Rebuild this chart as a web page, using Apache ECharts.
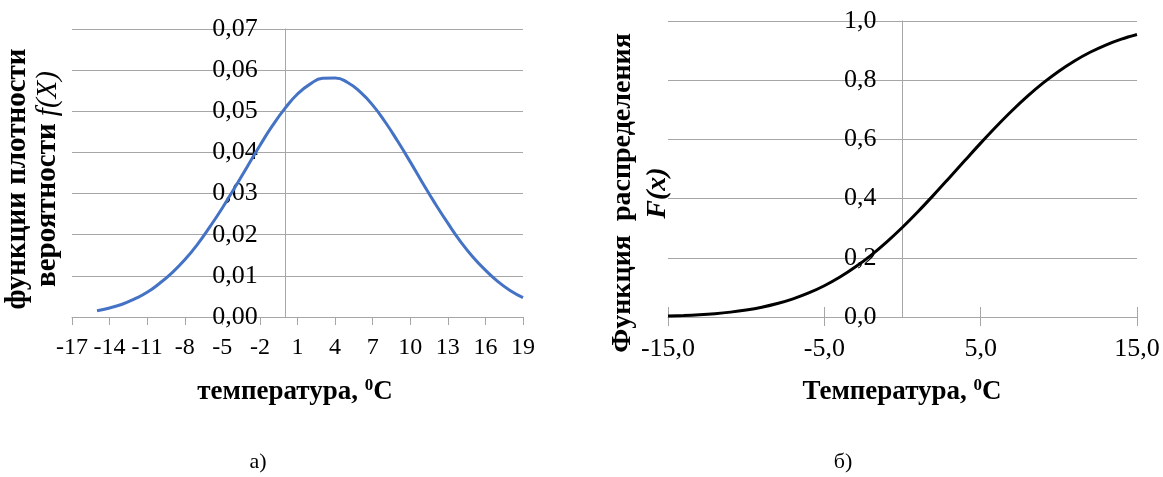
<!DOCTYPE html>
<html>
<head>
<meta charset="utf-8">
<script src="https://cdn.jsdelivr.net/npm/echarts@6/dist/echarts.min.js"></script>
<style>
html,body{margin:0;padding:0;background:#fff;}
#c{width:1163px;height:477px;}
</style>
</head>
<body>
<div id="c"></div>
<script>
// ---- data ----
const leftCategories = [-17,-16,-15,-14,-13,-12,-11,-10,-9,-8,-7,-6,-5,-4,-3,-2,-1,0,1,2,3,4,5,6,7,8,9,10,11,12,13,14,15,16,17,18,19];
const densityX = [-15,-14,-13,-12,-11,-10,-9,-8,-7,-6,-5,-4,-3,-2,-1,0,1,2,3,4,5,6,7,8,9,10,11,12,13,14,15,16,17,18,19];
const densityY = [0.0015,0.0022,0.0031,0.0044,0.0060,0.0082,0.0108,0.0139,0.0176,0.0219,0.0265,0.0315,0.0366,0.0417,0.0465,0.0507,0.0542,0.0566,0.0580,0.0581,0.0570,0.0547,0.0515,0.0474,0.0427,0.0377,0.0325,0.0275,0.0228,0.0184,0.0146,0.0114,0.0086,0.0064,0.0047];
const leftYTicks = [0,0.01,0.02,0.03,0.04,0.05,0.06,0.07];

const rightCategories = [-15,-14,-13,-12,-11,-10,-9,-8,-7,-6,-5,-4,-3,-2,-1,0,1,2,3,4,5,6,7,8,9,10,11,12,13,14,15];
const cdfX = [-15,-14,-13,-12,-11,-10,-9,-8,-7,-6,-5,-4,-3,-2,-1,0,1,2,3,4,5,6,7,8,9,10,11,12,13,14,15];
const cdfY = [0.0033,0.0050,0.0076,0.0113,0.0165,0.0236,0.0330,0.0454,0.0613,0.0812,0.1056,0.1350,0.1696,0.2093,0.2540,0.3033,0.3565,0.4126,0.4707,0.5293,0.5874,0.6435,0.6967,0.7460,0.7907,0.8304,0.8650,0.8944,0.9188,0.9387,0.9546];
const rightYTicks = [0,0.2,0.4,0.6,0.8,1.0];

const FONT = 'Liberation Serif';
const GRID = '#a6a6a6';
const LABEL_GAP = 26;

function commaFmt(d){ return v => Number(v).toFixed(d).replace('.', ','); }

const chart = echarts.init(document.getElementById('c'), null, {renderer:'canvas'});
const option = {
  animation:false,
  backgroundColor:'#fff',
  grid:[
    {left:72, width:451, top:29, height:288},
    {left:668, width:469, top:21, height:296}
  ],
  xAxis:[
    {type:'value', gridIndex:0, min:leftCategories[0], max:leftCategories[leftCategories.length-1],
     axisLine:{show:true, lineStyle:{color:GRID, width:1}}, axisTick:{show:false}, axisLabel:{show:false}, splitLine:{show:false}},
    {type:'category', gridIndex:0, position:'bottom', data:leftCategories.map(String), boundaryGap:false,
     axisLine:{show:false, onZero:false}, axisTick:{show:true, interval:2, length:8, lineStyle:{color:GRID}},
     axisLabel:{interval:2, margin:19, color:'#000', fontFamily:FONT, fontSize:24}, splitLine:{show:false}},
    {type:'value', gridIndex:1, min:rightCategories[0], max:rightCategories[rightCategories.length-1],
     axisLine:{show:true, lineStyle:{color:GRID, width:1}}, axisTick:{show:false}, axisLabel:{show:false}, splitLine:{show:false}},
    {type:'category', gridIndex:1, position:'bottom', data:rightCategories.map(String), boundaryGap:false,
     axisLine:{show:false, onZero:false}, axisTick:{show:true, interval:9, length:9, lineStyle:{color:GRID}},
     axisLabel:{interval:9, margin:19, color:'#000', fontFamily:FONT, fontSize:26, formatter:commaFmt(1)}, splitLine:{show:false}},
    {type:'category', gridIndex:1, position:'bottom', data:rightCategories.map(String), boundaryGap:false,
     axisLine:{show:false, onZero:false}, axisTick:{show:true, inside:true, interval:9, length:10, lineStyle:{color:GRID}},
     axisLabel:{show:false}, splitLine:{show:false}}
  ],
  yAxis:[
    {type:'value', gridIndex:0, min:leftYTicks[0], max:leftYTicks[leftYTicks.length-1], interval:0.01,
     axisLine:{show:true, onZero:true, lineStyle:{color:GRID, width:1}}, axisTick:{show:false},
     axisLabel:{margin:LABEL_GAP, color:'#000', fontFamily:FONT, fontSize:26, formatter:commaFmt(2)},
     splitLine:{show:true, lineStyle:{color:GRID, width:1}}},
    {type:'value', gridIndex:1, min:rightYTicks[0], max:rightYTicks[rightYTicks.length-1], interval:0.2,
     axisLine:{show:true, onZero:true, lineStyle:{color:GRID, width:1}}, axisTick:{show:false},
     axisLabel:{margin:LABEL_GAP, color:'#000', fontFamily:FONT, fontSize:26, formatter:commaFmt(1)},
     splitLine:{show:true, lineStyle:{color:GRID, width:1}}}
  ],
  series:[
    {type:'line', xAxisIndex:0, yAxisIndex:0, smooth:0.5, showSymbol:false,
     lineStyle:{color:'#4472C4', width:3}, data:densityX.map((x,i)=>[x,densityY[i]])},
    {type:'line', xAxisIndex:2, yAxisIndex:1, smooth:0.35, showSymbol:false,
     lineStyle:{color:'#000', width:3}, data:cdfX.map((x,i)=>[x,cdfY[i]])}
  ],
  graphic:[
    {type:'text', x:33, y:179, rotation:Math.PI/2, z:10,
     style:{text:'{b|функции плотности}\n{b|вероятности }{i|f(X)}', align:'center', verticalAlign:'middle',
       rich:{b:{fontFamily:FONT, fontWeight:'bold', fontSize:29, lineHeight:30, fill:'#000'},
             i:{fontFamily:FONT, fontStyle:'italic', fontSize:29, lineHeight:30, fill:'#000'}}}},
    {type:'text', x:640, y:193, rotation:Math.PI/2, z:10,
     style:{text:'{b|Функция  распределения}\n{i|F(x)}', align:'center', verticalAlign:'middle',
       rich:{b:{fontFamily:FONT, fontWeight:'bold', fontSize:28, lineHeight:35, fill:'#000'},
             i:{fontFamily:FONT, fontStyle:'italic', fontWeight:'bold', fontSize:28, lineHeight:35, fill:'#000'}}}},
    {type:'text', x:295, y:392, z:10,
     style:{text:'{b|температура, }{s|0}{b|C}', align:'center', verticalAlign:'middle',
       rich:{b:{fontFamily:FONT, fontWeight:'bold', fontSize:27, lineHeight:30, fill:'#000'},
             s:{fontFamily:FONT, fontWeight:'bold', fontSize:17, lineHeight:30, verticalAlign:'top', fill:'#000'}}}},
    {type:'text', x:902, y:392, z:10,
     style:{text:'{b|Температура, }{s|0}{b|C}', align:'center', verticalAlign:'middle',
       rich:{b:{fontFamily:FONT, fontWeight:'bold', fontSize:27, lineHeight:30, fill:'#000'},
             s:{fontFamily:FONT, fontWeight:'bold', fontSize:17, lineHeight:30, verticalAlign:'top', fill:'#000'}}}},
    {type:'text', x:258, y:462, z:10,
     style:{text:'а)', align:'center', verticalAlign:'middle', font:'22px "Liberation Serif"', fill:'#000'}},
    {type:'text', x:843, y:462, z:10,
     style:{text:'б)', align:'center', verticalAlign:'middle', font:'22px "Liberation Serif"', fill:'#000'}}
  ]
};
chart.setOption(option);

// Place the value labels beside the vertical axis line at x = 0 (as in the reference),
// using the library's own scale to find where x = 0 and the grid edge are.
const leftEdge = chart.convertToPixel({xAxisIndex:0}, leftCategories[0]);
const leftZero = chart.convertToPixel({xAxisIndex:0}, 0);
const rightEdge = chart.convertToPixel({xAxisIndex:2}, rightCategories[0]);
const rightZero = chart.convertToPixel({xAxisIndex:2}, 0);
chart.setOption({
  yAxis:[
    {axisLabel:{margin:LABEL_GAP - (leftZero - leftEdge)}},
    {axisLabel:{margin:LABEL_GAP - (rightZero - rightEdge)}}
  ]
});
</script>
</body>
</html>
